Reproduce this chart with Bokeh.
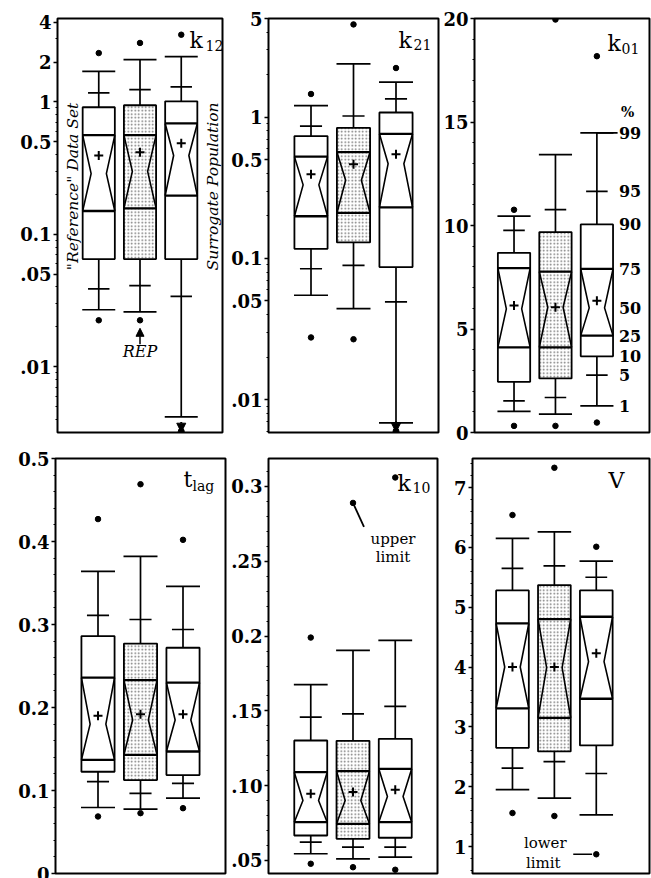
import math
from bokeh.plotting import figure
from bokeh.layouts import column, row
from bokeh.models import FixedTicker, Label, Arrow, NormalHead, Range1d
from bokeh.embed import file_html
from bokeh.resources import INLINE

# order of statistics in every list:
# min, p1, p5, p10, p25, p50, p75, p90, p95, p99, max, mean
GROUPS = ["\"Reference\" Data Set", "REP", "Surrogate Population"]

k12_ref = [0.0224, 0.0269, 0.0387, 0.065, 0.150, 0.287, 0.562, 0.912, 1.17, 1.70, 2.34, 0.394]
k12_rep = [0.0224, 0.0259, 0.041, 0.065, 0.157, 0.299, 0.562, 0.944, 1.24, 2.09, 2.79, 0.417]
k12_sur = [None, 0.00417, 0.0339, 0.065, 0.196, 0.394, 0.688, 1.01, 1.30, 2.20, 3.22, 0.487]

k21_ref = [0.0276, 0.0549, 0.0846, 0.117, 0.199, 0.332, 0.526, 0.735, 0.865, 1.21, 1.46, 0.395]
k21_rep = [0.0268, 0.0442, 0.0893, 0.130, 0.210, 0.358, 0.567, 0.841, 1.02, 2.39, 4.54, 0.464]
k21_sur = [None, 0.00685, 0.0493, 0.0869, 0.230, 0.469, 0.763, 1.08, 1.35, 1.77, 2.23, 0.546]

k01_ref = [0.32, 1.02, 1.53, 2.45, 4.11, 5.97, 7.94, 8.68, 9.76, 10.45, 10.76, 6.13]
k01_rep = [0.32, 0.89, 1.69, 2.61, 4.11, 6.05, 7.77, 9.68, 10.77, 13.42, 19.95, 6.05]
k01_sur = [0.48, 1.29, 2.77, 3.68, 4.68, 6.02, 7.90, 10.05, 11.65, 14.47, 18.18, 6.37]

tlag_ref = [0.0687, 0.0795, 0.1106, 0.1226, 0.137, 0.180, 0.236, 0.286, 0.311, 0.364, 0.427, 0.190]
tlag_rep = [0.0727, 0.0775, 0.0966, 0.1126, 0.143, 0.185, 0.233, 0.277, 0.306, 0.382, 0.469, 0.192]
tlag_sur = [0.0787, 0.0907, 0.1086, 0.1186, 0.147, 0.185, 0.230, 0.272, 0.294, 0.346, 0.402, 0.192]

k10_ref = [0.0478, 0.0545, 0.0623, 0.0667, 0.0756, 0.0901, 0.1090, 0.1302, 0.1458, 0.1676, 0.199, 0.0946]
k10_rep = [0.0455, 0.0511, 0.0589, 0.0645, 0.0745, 0.0901, 0.1097, 0.130, 0.148, 0.1904, 0.289, 0.0957]
k10_sur = [0.0438, 0.0522, 0.0589, 0.0652, 0.0756, 0.0928, 0.1113, 0.1313, 0.153, 0.1971, 0.306, 0.0972]

V_ref = [1.56, 1.95, 2.31, 2.65, 3.31, 4.00, 4.73, 5.28, 5.65, 6.15, 6.54, 4.00]
V_rep = [1.51, 1.81, 2.42, 2.59, 3.15, 3.99, 4.80, 5.37, 5.69, 6.26, 7.33, 4.00]
V_sur = [0.87, 1.53, 2.22, 2.69, 3.47, 4.09, 4.84, 5.28, 5.50, 5.77, 6.01, 4.23]

PCT_LABELS = ["1", "5", "10", "25", "50", "75", "90", "95", "99"]

k12_ticks = [4, 2, 1, 0.5, 0.1, 0.05, 0.01]
k12_tick_labels = ["4", "2", "1", "0.5", "0.1", ".05", ".01"]
k21_ticks = [5, 1, 0.5, 0.1, 0.05, 0.01]
k21_tick_labels = ["5", "1", "0.5", "0.1", ".05", ".01"]
k01_ticks = [0, 5, 10, 15, 20]
k01_tick_labels = ["0", "5", "10", "15", "20"]
tlag_ticks = [0, 0.1, 0.2, 0.3, 0.4, 0.5]
tlag_tick_labels = ["0", "0.1", "0.2", "0.3", "0.4", "0.5"]
k10_ticks = [0.05, 0.10, 0.15, 0.2, 0.25, 0.3]
k10_tick_labels = [".05", ".10", ".15", "0.2", ".25", "0.3"]
V_ticks = [1, 2, 3, 4, 5, 6, 7]
V_tick_labels = ["1", "2", "3", "4", "5", "6", "7"]

SERIF = "DejaVu Serif"
INK = "black"
HW = 0.39    # half box width
NW = 0.185   # half width at notch
CW = 0.40    # half cap width
TW = 0.26    # half width of 5/95 ticks
LW = 1.8


def log_minors(lo, hi):
    out = []
    e = math.floor(math.log10(lo))
    while 10 ** e <= hi:
        for m in range(1, 10):
            v = m * 10 ** e
            if lo <= v <= hi:
                out.append(round(v, 6))
        e += 1
    return out


def make_fig(bl, fw, br, bt, fh, bb, yr, ticks, labels, minors, log=False, xr=(0, 4)):
    p = figure(width=bl + fw + br, height=bt + fh + bb,
               x_range=Range1d(*xr), y_range=Range1d(*yr),
               y_axis_type="log" if log else "linear",
               x_axis_location=None, output_backend="svg", toolbar_location=None,
               min_border_left=bl, min_border_right=br,
               min_border_top=bt, min_border_bottom=bb)
    p.grid.visible = False
    p.outline_line_color = INK
    p.outline_line_width = 2
    p.outline_line_alpha = 1.0
    ax = p.yaxis[0]
    ax.ticker = FixedTicker(ticks=ticks, minor_ticks=[m for m in minors if m not in ticks])
    ax.major_label_overrides = {t: l for t, l in zip(ticks, labels)}
    ax.axis_line_color = None
    ax.major_tick_out = 4
    ax.major_tick_in = 0
    ax.minor_tick_out = 2
    ax.minor_tick_in = 0
    ax.major_tick_line_width = 1.5
    ax.major_tick_line_color = INK
    ax.minor_tick_line_color = INK
    ax.major_label_standoff = 2
    ax.major_label_text_font = SERIF
    ax.major_label_text_font_size = "18px"
    ax.major_label_text_font_style = "bold"
    ax.major_label_text_color = INK
    return p


def label(p, x, y, text, dx=0, dy=0, size="15px", style="normal", align="center",
          baseline="middle", angle=0.0):
    p.add_layout(Label(x=x, y=y, x_offset=dx, y_offset=dy, text=text, angle=angle,
                       text_font=SERIF, text_font_size=size, text_font_style=style,
                       text_color=INK, text_align=align, text_baseline=baseline))


def draw_boxes(p, boxes, xs):
    for i, (vals, x) in enumerate(zip(boxes, xs)):
        mn, p1, p5, p10, p25, p50, p75, p90, p95, p99, mx, mean = vals
        if i == 1:
            p.quad(left=[x - HW], right=[x + HW], bottom=[p10], top=[p90],
                   fill_color="white", fill_alpha=1, line_color=None,
                   hatch_pattern="dot", hatch_scale=3.5, hatch_weight=1.0,
                   hatch_color=INK, hatch_alpha=0.55)
        p.quad(left=[x - HW], right=[x + HW], bottom=[p10], top=[p90],
               fill_color=None, line_color=INK, line_width=LW)
        p.line([x - HW, x - NW, x - HW], [p75, p50, p25], line_color=INK, line_width=1.6)
        p.line([x + HW, x + NW, x + HW], [p75, p50, p25], line_color=INK, line_width=1.6)
        p.segment(x0=[x - HW, x - HW], x1=[x + HW, x + HW], y0=[p25, p75], y1=[p25, p75],
                  line_color=INK, line_width=2.3)
        p.segment(x0=[x, x], x1=[x, x], y0=[p90, p10], y1=[p99, p1],
                  line_color=INK, line_width=1.7)
        p.segment(x0=[x - CW, x - CW], x1=[x + CW, x + CW], y0=[p99, p1], y1=[p99, p1],
                  line_color=INK, line_width=1.7)
        p.segment(x0=[x - TW, x - TW], x1=[x + TW, x + TW], y0=[p95, p5], y1=[p95, p5],
                  line_color=INK, line_width=1.7)
        pts = [v for v in (mn, mx) if v is not None]
        p.scatter([x] * len(pts), pts, marker="circle", size=5.5, color=INK)
        p.scatter([x], [mean], marker="cross", size=9, line_width=2, color=INK)
        if mn is None:
            lo = p.y_range.start
            p.scatter([x], [lo * 1.02], marker="circle", size=6, color=INK)
            p.add_layout(Arrow(x_start=x, y_start=lo * 1.2, x_end=x, y_end=lo * 1.005,
                               line_width=2, line_color=INK,
                               end=NormalHead(size=9, fill_color=INK, line_color=INK)))


def title(p, main, sub, dx, dy, sdx, sdy, size="22px"):
    label(p, p.x_range.end, p.y_range.end, main, dx=dx, dy=-dy, size=size,
          align="left", baseline="alphabetic")
    if sub:
        label(p, p.x_range.end, p.y_range.end, sub, dx=sdx, dy=-sdy, size="14px",
              align="left", baseline="alphabetic")


XS = [1, 2, 3]

# ---------- row 1 ----------
p1 = make_fig(57, 165, 2, 16, 416, 16, (0.00318, 4.27), k12_ticks, k12_tick_labels,
              log_minors(0.00318, 4.27), log=True)
draw_boxes(p1, [k12_ref, k12_rep, k12_sur], XS)
title(p1, "k", "12", -33, 22, -17, 27)
label(p1, 0, 0.23, GROUPS[0], dx=15, size="15.5px", style="italic", angle=math.pi / 2)
label(p1, 4, 0.23, GROUPS[2], dx=-10, size="15.5px", style="italic", angle=math.pi / 2)
rep_min = k12_rep[0]
p1.add_layout(Arrow(x_start=2, y_start=rep_min * 0.66, x_end=2, y_end=rep_min * 0.87,
                    line_width=1.5, line_color=INK,
                    end=NormalHead(size=8, fill_color=INK, line_color=INK)))
label(p1, 2, rep_min, GROUPS[1], dy=-22, size="16px", style="italic", baseline="top")

p2 = make_fig(44, 170, 2, 18, 415, 15, (0.00586, 5.0), k21_ticks, k21_tick_labels,
              log_minors(0.00586, 5.0), log=True)
draw_boxes(p2, [k21_ref, k21_rep, k21_sur], XS)
title(p2, "k", "21", -40, 22, -25, 26)

p3 = make_fig(33, 176, 2, 18, 415, 15, (0, 20), k01_ticks, k01_tick_labels,
              list(range(0, 21)), xr=(0.046, 4.27))
draw_boxes(p3, [k01_ref, k01_rep, k01_sur], XS)
title(p3, "k", "01", -42, 25, -28, 30)
pct_vals = k01_sur[1:10]
p3.segment(x0=[3], x1=[3.5], y0=[k01_sur[9]], y1=[k01_sur[9]], line_color=INK, line_width=1.7)
for lab, v in zip(PCT_LABELS, pct_vals):
    label(p3, 3, v, lab, dx=22, size="16px", style="bold", align="left")
label(p3, 3, pct_vals[-1], "%", dx=24, dy=21, size="14px", style="bold", align="left")

# ---------- row 2 ----------
p4 = make_fig(55, 170, 2, 9, 416, 8, (0, 0.5), tlag_ticks, tlag_tick_labels,
              [round(i * 0.02, 3) for i in range(26)])
draw_boxes(p4, [tlag_ref, tlag_rep, tlag_sur], XS)
title(p4, "t", "lag", -42, 21, -33, 27)

p5 = make_fig(41, 169, 3, 10, 415, 8, (0.0413, 0.3187), k10_ticks, k10_tick_labels,
              [round(0.05 + i * 0.01, 3) for i in range(27)])
draw_boxes(p5, [k10_ref, k10_rep, k10_sur], XS)
title(p5, "k", "10", -40, 25, -25, 29)
up = k10_rep[10]
p5.segment(x0=[2], x1=[2.26], y0=[up], y1=[up - 0.016], line_color=INK, line_width=1.8)
label(p5, 2, up, "upper", dx=40, dy=-36)
label(p5, 2, up, "limit", dx=40, dy=-54)

p6 = make_fig(32, 177, 2, 10, 415, 8, (0.549, 7.485), V_ticks, V_tick_labels,
              [round(0.6 + i * 0.2, 2) for i in range(35)], xr=(0.046, 4.27))
draw_boxes(p6, [V_ref, V_rep, V_sur], XS)
title(p6, "V", "", -41, 22, 0, 0, size="22px")
lowv = V_sur[0]
p6.segment(x0=[2.45], x1=[2.9], y0=[lowv], y1=[lowv], line_color=INK, line_width=1.5)
label(p6, 3, lowv, "lower", dx=-51, dy=11)
label(p6, 3, lowv, "limit", dx=-53, dy=-9)

layout = column(row(p1, p2, p3, spacing=0), row(p4, p5, p6, spacing=0), spacing=0)
open("out.html", "w").write(file_html(layout, INLINE))
